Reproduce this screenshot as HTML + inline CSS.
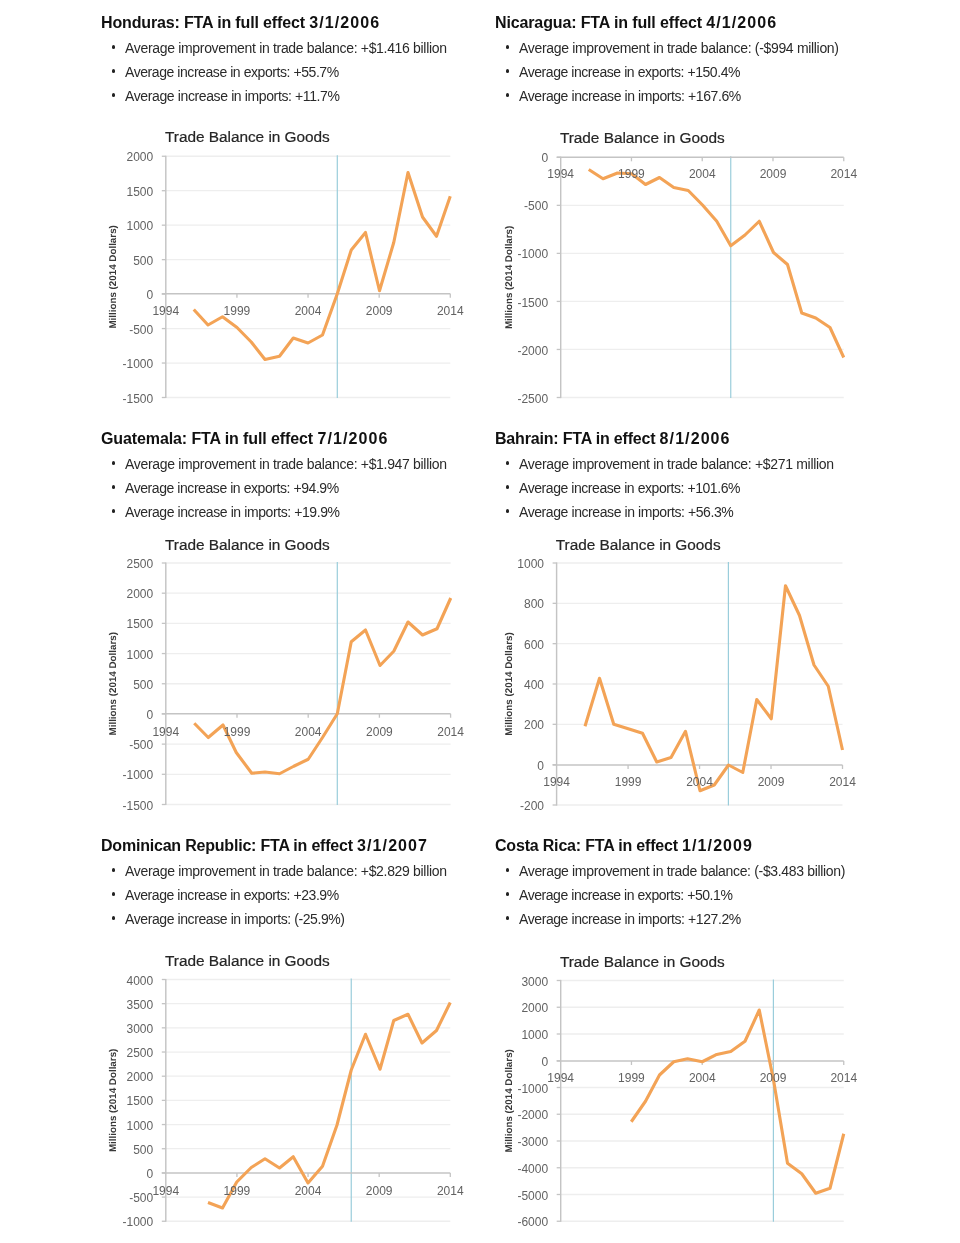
<!DOCTYPE html>
<html lang="en">
<head>
<meta charset="utf-8">
<title>FTA Trade Balance in Goods</title>
<style>
html,body{margin:0;padding:0;background:#fff;}
body{width:960px;height:1243px;position:relative;overflow:hidden;font-family:"Liberation Sans",sans-serif;color:#222;}
.sec{position:absolute;margin:0;}
.sec h3{position:absolute;left:0;top:0;margin:0;font-size:16px;line-height:20px;font-weight:bold;color:#111;white-space:nowrap;letter-spacing:-0.2px;}
.sec ul{position:absolute;left:0;top:0;margin:0;padding:0;list-style:none;}
.sec li{position:absolute;left:24px;margin:0;font-size:14px;line-height:20px;color:#2a2a2a;white-space:nowrap;letter-spacing:-0.2px;}
.sec li::before{content:"";position:absolute;left:-13.5px;top:7.4px;width:3.8px;height:3.8px;border-radius:50%;background:#222;}
svg{position:absolute;left:0;top:0;}
svg text{font-family:"Liberation Sans",sans-serif;}
.ct{font-size:15.4px;fill:#262626;stroke:#262626;stroke-width:0.2px;}
.yl{font-size:12px;fill:#626262;text-anchor:end;}
.xl{font-size:12px;fill:#626262;text-anchor:middle;}
.yt{font-size:9.8px;font-weight:bold;fill:#383838;text-anchor:middle;text-rendering:geometricPrecision;}
</style>
</head>
<body>

<section class="sec" style="left:101px;top:0px">
<h3 style="top:13px;letter-spacing:-0.148px">Honduras: FTA in full effect <span style="letter-spacing:1.088px">3/1/2006</span></h3>
<ul>
<li style="top:38px;letter-spacing:-0.321px">Average improvement in trade balance: +$1.416 billion</li>
<li style="top:62px;letter-spacing:-0.435px">Average increase in exports: +55.7%</li>
<li style="top:86px;letter-spacing:-0.380px">Average increase in imports: +11.7%</li>
</ul></section>
<section class="sec" style="left:495px;top:0px">
<h3 style="top:13px;letter-spacing:-0.131px">Nicaragua: FTA in full effect <span style="letter-spacing:1.088px">4/1/2006</span></h3>
<ul>
<li style="top:38px;letter-spacing:-0.321px">Average improvement in trade balance: (-$994 million)</li>
<li style="top:62px;letter-spacing:-0.437px">Average increase in exports: +150.4%</li>
<li style="top:86px;letter-spacing:-0.414px">Average increase in imports: +167.6%</li>
</ul></section>
<section class="sec" style="left:101px;top:416px">
<h3 style="top:13px;letter-spacing:-0.106px">Guatemala: FTA in full effect <span style="letter-spacing:1.088px">7/1/2006</span></h3>
<ul>
<li style="top:38px;letter-spacing:-0.321px">Average improvement in trade balance: +$1.947 billion</li>
<li style="top:62px;letter-spacing:-0.435px">Average increase in exports: +94.9%</li>
<li style="top:86px;letter-spacing:-0.409px">Average increase in imports: +19.9%</li>
</ul></section>
<section class="sec" style="left:495px;top:416px">
<h3 style="top:13px;letter-spacing:-0.187px">Bahrain: FTA in effect <span style="letter-spacing:1.088px">8/1/2006</span></h3>
<ul>
<li style="top:38px;letter-spacing:-0.317px">Average improvement in trade balance: +$271 million</li>
<li style="top:62px;letter-spacing:-0.437px">Average increase in exports: +101.6%</li>
<li style="top:86px;letter-spacing:-0.418px">Average increase in imports: +56.3%</li>
</ul></section>
<section class="sec" style="left:101px;top:823px">
<h3 style="top:13px;letter-spacing:-0.207px">Dominican Republic: FTA in effect <span style="letter-spacing:1.088px">3/1/2007</span></h3>
<ul>
<li style="top:38px;letter-spacing:-0.321px">Average improvement in trade balance: +$2.829 billion</li>
<li style="top:62px;letter-spacing:-0.435px">Average increase in exports: +23.9%</li>
<li style="top:86px;letter-spacing:-0.409px">Average increase in imports: (-25.9%)</li>
</ul></section>
<section class="sec" style="left:495px;top:823px">
<h3 style="top:13px;letter-spacing:-0.190px">Costa Rica: FTA in effect <span style="letter-spacing:1.088px">1/1/2009</span></h3>
<ul>
<li style="top:38px;letter-spacing:-0.336px">Average improvement in trade balance: (-$3.483 billion)</li>
<li style="top:62px;letter-spacing:-0.444px">Average increase in exports: +50.1%</li>
<li style="top:86px;letter-spacing:-0.414px">Average increase in imports: +127.2%</li>
</ul></section>
<svg width="960" height="1243" viewBox="0 0 960 1243">
<g>
<line x1="165.8" y1="156.25" x2="450.3" y2="156.25" stroke="#eeeeee" stroke-width="1.3"/>
<line x1="165.8" y1="190.71" x2="450.3" y2="190.71" stroke="#eeeeee" stroke-width="1.3"/>
<line x1="165.8" y1="225.18" x2="450.3" y2="225.18" stroke="#eeeeee" stroke-width="1.3"/>
<line x1="165.8" y1="259.64" x2="450.3" y2="259.64" stroke="#eeeeee" stroke-width="1.3"/>
<line x1="165.8" y1="328.57" x2="450.3" y2="328.57" stroke="#eeeeee" stroke-width="1.3"/>
<line x1="165.8" y1="363.04" x2="450.3" y2="363.04" stroke="#eeeeee" stroke-width="1.3"/>
<line x1="165.8" y1="397.5" x2="450.3" y2="397.5" stroke="#eeeeee" stroke-width="1.3"/>
<line x1="337.3" y1="155.25" x2="337.3" y2="398" stroke="#9acddb" stroke-width="1.2"/>
<line x1="165.8" y1="155.65" x2="165.8" y2="398.1" stroke="#c4c4c4" stroke-width="1.45"/>
<line x1="161.8" y1="293.75" x2="450.3" y2="293.75" stroke="#c4c4c4" stroke-width="1.5"/>
<line x1="161.8" y1="156.25" x2="165.8" y2="156.25" stroke="#c4c4c4" stroke-width="1.3"/>
<line x1="161.8" y1="190.71" x2="165.8" y2="190.71" stroke="#c4c4c4" stroke-width="1.3"/>
<line x1="161.8" y1="225.18" x2="165.8" y2="225.18" stroke="#c4c4c4" stroke-width="1.3"/>
<line x1="161.8" y1="259.64" x2="165.8" y2="259.64" stroke="#c4c4c4" stroke-width="1.3"/>
<line x1="161.8" y1="294.11" x2="165.8" y2="294.11" stroke="#c4c4c4" stroke-width="1.3"/>
<line x1="161.8" y1="328.57" x2="165.8" y2="328.57" stroke="#c4c4c4" stroke-width="1.3"/>
<line x1="161.8" y1="363.04" x2="165.8" y2="363.04" stroke="#c4c4c4" stroke-width="1.3"/>
<line x1="161.8" y1="397.5" x2="165.8" y2="397.5" stroke="#c4c4c4" stroke-width="1.3"/>
<line x1="236.93" y1="293.75" x2="236.93" y2="297.75" stroke="#c4c4c4" stroke-width="1.3"/>
<line x1="308.05" y1="293.75" x2="308.05" y2="297.75" stroke="#c4c4c4" stroke-width="1.3"/>
<line x1="379.18" y1="293.75" x2="379.18" y2="297.75" stroke="#c4c4c4" stroke-width="1.3"/>
<line x1="450.3" y1="293.75" x2="450.3" y2="297.75" stroke="#c4c4c4" stroke-width="1.3"/>
<path d="M193.75 309.5 L208 325 L222.5 316.75 L237 327.5 L251.25 342 L265 359.5 L279.5 356.25 L293.25 338 L308 343 L322.5 335 L337.3 293.75 L351.25 250 L365.5 232.5 L379.5 290.75 L393.75 242.5 L408 172.5 L422.5 217 L436.5 236.25 L450.25 196.25" fill="none" stroke="#f3a356" stroke-width="3.1" stroke-linejoin="round" stroke-linecap="butt"/>
<text class="yl" x="153.2" y="161.35">2000</text>
<text class="yl" x="153.2" y="195.81">1500</text>
<text class="yl" x="153.2" y="230.28">1000</text>
<text class="yl" x="153.2" y="264.74">500</text>
<text class="yl" x="153.2" y="299.21">0</text>
<text class="yl" x="153.2" y="333.67">-500</text>
<text class="yl" x="153.2" y="368.14">-1000</text>
<text class="yl" x="153.2" y="402.6">-1500</text>
<text class="xl" x="165.8" y="315.25">1994</text>
<text class="xl" x="236.93" y="315.25">1999</text>
<text class="xl" x="308.05" y="315.25">2004</text>
<text class="xl" x="379.18" y="315.25">2009</text>
<text class="xl" x="450.3" y="315.25">2014</text>
<text class="ct" x="165" y="142.05" textLength="164.8" lengthAdjust="spacing">Trade Balance in Goods</text>
<text class="yt" transform="translate(116.2 276.88) rotate(-90)" x="0" y="0">Millions (2014 Dollars)</text>
</g>
<g>
<line x1="560.7" y1="205.34" x2="843.75" y2="205.34" stroke="#eeeeee" stroke-width="1.3"/>
<line x1="560.7" y1="253.38" x2="843.75" y2="253.38" stroke="#eeeeee" stroke-width="1.3"/>
<line x1="560.7" y1="301.42" x2="843.75" y2="301.42" stroke="#eeeeee" stroke-width="1.3"/>
<line x1="560.7" y1="349.46" x2="843.75" y2="349.46" stroke="#eeeeee" stroke-width="1.3"/>
<line x1="560.7" y1="397.5" x2="843.75" y2="397.5" stroke="#eeeeee" stroke-width="1.3"/>
<line x1="730.75" y1="156.3" x2="730.75" y2="398" stroke="#9acddb" stroke-width="1.2"/>
<line x1="560.7" y1="156.7" x2="560.7" y2="398.1" stroke="#c4c4c4" stroke-width="1.45"/>
<line x1="556.7" y1="157.3" x2="843.75" y2="157.3" stroke="#c4c4c4" stroke-width="1.5"/>
<line x1="556.7" y1="157.3" x2="560.7" y2="157.3" stroke="#c4c4c4" stroke-width="1.3"/>
<line x1="556.7" y1="205.34" x2="560.7" y2="205.34" stroke="#c4c4c4" stroke-width="1.3"/>
<line x1="556.7" y1="253.38" x2="560.7" y2="253.38" stroke="#c4c4c4" stroke-width="1.3"/>
<line x1="556.7" y1="301.42" x2="560.7" y2="301.42" stroke="#c4c4c4" stroke-width="1.3"/>
<line x1="556.7" y1="349.46" x2="560.7" y2="349.46" stroke="#c4c4c4" stroke-width="1.3"/>
<line x1="556.7" y1="397.5" x2="560.7" y2="397.5" stroke="#c4c4c4" stroke-width="1.3"/>
<line x1="631.46" y1="157.3" x2="631.46" y2="161.3" stroke="#c4c4c4" stroke-width="1.3"/>
<line x1="702.23" y1="157.3" x2="702.23" y2="161.3" stroke="#c4c4c4" stroke-width="1.3"/>
<line x1="772.99" y1="157.3" x2="772.99" y2="161.3" stroke="#c4c4c4" stroke-width="1.3"/>
<line x1="843.75" y1="157.3" x2="843.75" y2="161.3" stroke="#c4c4c4" stroke-width="1.3"/>
<path d="M588.75 169.5 L603 178.75 L617.5 173 L631.75 173.75 L645.5 184.5 L659.5 177.5 L673.75 187.5 L688.25 190.5 L702.5 205 L716.75 221.25 L730.75 245.75 L745 235 L759.25 221.25 L773.5 252.5 L787.5 264.5 L801.75 313 L815.75 318 L830 327.5 L843.75 357.5" fill="none" stroke="#f3a356" stroke-width="3.1" stroke-linejoin="round" stroke-linecap="butt"/>
<text class="yl" x="548.1" y="162.4">0</text>
<text class="yl" x="548.1" y="210.44">-500</text>
<text class="yl" x="548.1" y="258.48">-1000</text>
<text class="yl" x="548.1" y="306.52">-1500</text>
<text class="yl" x="548.1" y="354.56">-2000</text>
<text class="yl" x="548.1" y="402.6">-2500</text>
<text class="xl" x="560.7" y="178.3">1994</text>
<text class="xl" x="631.46" y="178.3">1999</text>
<text class="xl" x="702.23" y="178.3">2004</text>
<text class="xl" x="772.99" y="178.3">2009</text>
<text class="xl" x="843.75" y="178.3">2014</text>
<text class="ct" x="559.9" y="143.1" textLength="164.8" lengthAdjust="spacing">Trade Balance in Goods</text>
<text class="yt" transform="translate(511.7 277.4) rotate(-90)" x="0" y="0">Millions (2014 Dollars)</text>
</g>
<g>
<line x1="165.8" y1="563" x2="450.6" y2="563" stroke="#eeeeee" stroke-width="1.3"/>
<line x1="165.8" y1="593.19" x2="450.6" y2="593.19" stroke="#eeeeee" stroke-width="1.3"/>
<line x1="165.8" y1="623.38" x2="450.6" y2="623.38" stroke="#eeeeee" stroke-width="1.3"/>
<line x1="165.8" y1="653.56" x2="450.6" y2="653.56" stroke="#eeeeee" stroke-width="1.3"/>
<line x1="165.8" y1="683.75" x2="450.6" y2="683.75" stroke="#eeeeee" stroke-width="1.3"/>
<line x1="165.8" y1="744.12" x2="450.6" y2="744.12" stroke="#eeeeee" stroke-width="1.3"/>
<line x1="165.8" y1="774.31" x2="450.6" y2="774.31" stroke="#eeeeee" stroke-width="1.3"/>
<line x1="165.8" y1="804.5" x2="450.6" y2="804.5" stroke="#eeeeee" stroke-width="1.3"/>
<line x1="337.3" y1="562" x2="337.3" y2="805" stroke="#9acddb" stroke-width="1.2"/>
<line x1="165.8" y1="562.4" x2="165.8" y2="805.1" stroke="#c4c4c4" stroke-width="1.45"/>
<line x1="161.8" y1="713.75" x2="450.6" y2="713.75" stroke="#c4c4c4" stroke-width="1.5"/>
<line x1="161.8" y1="563" x2="165.8" y2="563" stroke="#c4c4c4" stroke-width="1.3"/>
<line x1="161.8" y1="593.19" x2="165.8" y2="593.19" stroke="#c4c4c4" stroke-width="1.3"/>
<line x1="161.8" y1="623.38" x2="165.8" y2="623.38" stroke="#c4c4c4" stroke-width="1.3"/>
<line x1="161.8" y1="653.56" x2="165.8" y2="653.56" stroke="#c4c4c4" stroke-width="1.3"/>
<line x1="161.8" y1="683.75" x2="165.8" y2="683.75" stroke="#c4c4c4" stroke-width="1.3"/>
<line x1="161.8" y1="713.94" x2="165.8" y2="713.94" stroke="#c4c4c4" stroke-width="1.3"/>
<line x1="161.8" y1="744.12" x2="165.8" y2="744.12" stroke="#c4c4c4" stroke-width="1.3"/>
<line x1="161.8" y1="774.31" x2="165.8" y2="774.31" stroke="#c4c4c4" stroke-width="1.3"/>
<line x1="161.8" y1="804.5" x2="165.8" y2="804.5" stroke="#c4c4c4" stroke-width="1.3"/>
<line x1="237" y1="713.75" x2="237" y2="717.75" stroke="#c4c4c4" stroke-width="1.3"/>
<line x1="308.2" y1="713.75" x2="308.2" y2="717.75" stroke="#c4c4c4" stroke-width="1.3"/>
<line x1="379.4" y1="713.75" x2="379.4" y2="717.75" stroke="#c4c4c4" stroke-width="1.3"/>
<line x1="450.6" y1="713.75" x2="450.6" y2="717.75" stroke="#c4c4c4" stroke-width="1.3"/>
<path d="M194.25 723.25 L208.25 737.5 L223 725 L236.25 752.5 L251.75 773.25 L265 772 L279.5 773.75 L293.75 766.25 L308.25 759.25 L322.5 737.5 L337.3 713.75 L351.25 641.75 L365.5 630 L380 665.5 L393.75 651.25 L408 622 L422.5 635 L437 628.75 L450.75 598" fill="none" stroke="#f3a356" stroke-width="3.1" stroke-linejoin="round" stroke-linecap="butt"/>
<text class="yl" x="153.2" y="568.1">2500</text>
<text class="yl" x="153.2" y="598.29">2000</text>
<text class="yl" x="153.2" y="628.48">1500</text>
<text class="yl" x="153.2" y="658.66">1000</text>
<text class="yl" x="153.2" y="688.85">500</text>
<text class="yl" x="153.2" y="719.04">0</text>
<text class="yl" x="153.2" y="749.23">-500</text>
<text class="yl" x="153.2" y="779.41">-1000</text>
<text class="yl" x="153.2" y="809.6">-1500</text>
<text class="xl" x="165.8" y="735.5">1994</text>
<text class="xl" x="237" y="735.5">1999</text>
<text class="xl" x="308.2" y="735.5">2004</text>
<text class="xl" x="379.4" y="735.5">2009</text>
<text class="xl" x="450.6" y="735.5">2014</text>
<text class="ct" x="165" y="549.5" textLength="164.8" lengthAdjust="spacing">Trade Balance in Goods</text>
<text class="yt" transform="translate(116.2 683.75) rotate(-90)" x="0" y="0">Millions (2014 Dollars)</text>
</g>
<g>
<line x1="556.6" y1="563" x2="842.5" y2="563" stroke="#eeeeee" stroke-width="1.3"/>
<line x1="556.6" y1="603.33" x2="842.5" y2="603.33" stroke="#eeeeee" stroke-width="1.3"/>
<line x1="556.6" y1="643.67" x2="842.5" y2="643.67" stroke="#eeeeee" stroke-width="1.3"/>
<line x1="556.6" y1="684" x2="842.5" y2="684" stroke="#eeeeee" stroke-width="1.3"/>
<line x1="556.6" y1="724.33" x2="842.5" y2="724.33" stroke="#eeeeee" stroke-width="1.3"/>
<line x1="556.6" y1="805" x2="842.5" y2="805" stroke="#eeeeee" stroke-width="1.3"/>
<line x1="728.4" y1="562" x2="728.4" y2="805.5" stroke="#9acddb" stroke-width="1.2"/>
<line x1="556.6" y1="562.4" x2="556.6" y2="805.6" stroke="#c4c4c4" stroke-width="1.45"/>
<line x1="552.6" y1="765" x2="842.5" y2="765" stroke="#c4c4c4" stroke-width="1.5"/>
<line x1="552.6" y1="563" x2="556.6" y2="563" stroke="#c4c4c4" stroke-width="1.3"/>
<line x1="552.6" y1="603.33" x2="556.6" y2="603.33" stroke="#c4c4c4" stroke-width="1.3"/>
<line x1="552.6" y1="643.67" x2="556.6" y2="643.67" stroke="#c4c4c4" stroke-width="1.3"/>
<line x1="552.6" y1="684" x2="556.6" y2="684" stroke="#c4c4c4" stroke-width="1.3"/>
<line x1="552.6" y1="724.33" x2="556.6" y2="724.33" stroke="#c4c4c4" stroke-width="1.3"/>
<line x1="552.6" y1="764.67" x2="556.6" y2="764.67" stroke="#c4c4c4" stroke-width="1.3"/>
<line x1="552.6" y1="805" x2="556.6" y2="805" stroke="#c4c4c4" stroke-width="1.3"/>
<line x1="628.08" y1="765" x2="628.08" y2="769" stroke="#c4c4c4" stroke-width="1.3"/>
<line x1="699.55" y1="765" x2="699.55" y2="769" stroke="#c4c4c4" stroke-width="1.3"/>
<line x1="771.02" y1="765" x2="771.02" y2="769" stroke="#c4c4c4" stroke-width="1.3"/>
<line x1="842.5" y1="765" x2="842.5" y2="769" stroke="#c4c4c4" stroke-width="1.3"/>
<path d="M585 726.25 L599.5 678.25 L613.75 724.25 L628.25 728.75 L642.5 733.25 L656.75 762 L671 757.5 L685.5 731.25 L700 790.75 L714.25 785 L728.5 765 L742.75 772.5 L756.75 699.5 L771.25 718.75 L785.5 585.75 L799.5 615.5 L814 665 L828.25 686.25 L842.5 750" fill="none" stroke="#f3a356" stroke-width="3.1" stroke-linejoin="round" stroke-linecap="butt"/>
<text class="yl" x="544" y="568.1">1000</text>
<text class="yl" x="544" y="608.43">800</text>
<text class="yl" x="544" y="648.77">600</text>
<text class="yl" x="544" y="689.1">400</text>
<text class="yl" x="544" y="729.43">200</text>
<text class="yl" x="544" y="769.77">0</text>
<text class="yl" x="544" y="810.1">-200</text>
<text class="xl" x="556.6" y="786">1994</text>
<text class="xl" x="628.08" y="786">1999</text>
<text class="xl" x="699.55" y="786">2004</text>
<text class="xl" x="771.02" y="786">2009</text>
<text class="xl" x="842.5" y="786">2014</text>
<text class="ct" x="555.8" y="549.5" textLength="164.8" lengthAdjust="spacing">Trade Balance in Goods</text>
<text class="yt" transform="translate(511.7 684) rotate(-90)" x="0" y="0">Millions (2014 Dollars)</text>
</g>
<g>
<line x1="165.8" y1="979.5" x2="450.3" y2="979.5" stroke="#eeeeee" stroke-width="1.3"/>
<line x1="165.8" y1="1003.67" x2="450.3" y2="1003.67" stroke="#eeeeee" stroke-width="1.3"/>
<line x1="165.8" y1="1027.85" x2="450.3" y2="1027.85" stroke="#eeeeee" stroke-width="1.3"/>
<line x1="165.8" y1="1052.03" x2="450.3" y2="1052.03" stroke="#eeeeee" stroke-width="1.3"/>
<line x1="165.8" y1="1076.2" x2="450.3" y2="1076.2" stroke="#eeeeee" stroke-width="1.3"/>
<line x1="165.8" y1="1100.38" x2="450.3" y2="1100.38" stroke="#eeeeee" stroke-width="1.3"/>
<line x1="165.8" y1="1124.55" x2="450.3" y2="1124.55" stroke="#eeeeee" stroke-width="1.3"/>
<line x1="165.8" y1="1148.72" x2="450.3" y2="1148.72" stroke="#eeeeee" stroke-width="1.3"/>
<line x1="165.8" y1="1197.08" x2="450.3" y2="1197.08" stroke="#eeeeee" stroke-width="1.3"/>
<line x1="165.8" y1="1221.25" x2="450.3" y2="1221.25" stroke="#eeeeee" stroke-width="1.3"/>
<line x1="351.25" y1="978.5" x2="351.25" y2="1221.75" stroke="#9acddb" stroke-width="1.2"/>
<line x1="165.8" y1="978.9" x2="165.8" y2="1221.85" stroke="#c4c4c4" stroke-width="1.45"/>
<line x1="161.8" y1="1173" x2="450.3" y2="1173" stroke="#c4c4c4" stroke-width="1.5"/>
<line x1="161.8" y1="979.5" x2="165.8" y2="979.5" stroke="#c4c4c4" stroke-width="1.3"/>
<line x1="161.8" y1="1003.67" x2="165.8" y2="1003.67" stroke="#c4c4c4" stroke-width="1.3"/>
<line x1="161.8" y1="1027.85" x2="165.8" y2="1027.85" stroke="#c4c4c4" stroke-width="1.3"/>
<line x1="161.8" y1="1052.03" x2="165.8" y2="1052.03" stroke="#c4c4c4" stroke-width="1.3"/>
<line x1="161.8" y1="1076.2" x2="165.8" y2="1076.2" stroke="#c4c4c4" stroke-width="1.3"/>
<line x1="161.8" y1="1100.38" x2="165.8" y2="1100.38" stroke="#c4c4c4" stroke-width="1.3"/>
<line x1="161.8" y1="1124.55" x2="165.8" y2="1124.55" stroke="#c4c4c4" stroke-width="1.3"/>
<line x1="161.8" y1="1148.72" x2="165.8" y2="1148.72" stroke="#c4c4c4" stroke-width="1.3"/>
<line x1="161.8" y1="1172.9" x2="165.8" y2="1172.9" stroke="#c4c4c4" stroke-width="1.3"/>
<line x1="161.8" y1="1197.08" x2="165.8" y2="1197.08" stroke="#c4c4c4" stroke-width="1.3"/>
<line x1="161.8" y1="1221.25" x2="165.8" y2="1221.25" stroke="#c4c4c4" stroke-width="1.3"/>
<line x1="236.93" y1="1173" x2="236.93" y2="1177" stroke="#c4c4c4" stroke-width="1.3"/>
<line x1="308.05" y1="1173" x2="308.05" y2="1177" stroke="#c4c4c4" stroke-width="1.3"/>
<line x1="379.18" y1="1173" x2="379.18" y2="1177" stroke="#c4c4c4" stroke-width="1.3"/>
<line x1="450.3" y1="1173" x2="450.3" y2="1177" stroke="#c4c4c4" stroke-width="1.3"/>
<path d="M208 1202.5 L222.5 1208 L236.75 1182 L251.25 1167.5 L265 1158.75 L279.5 1168 L293.25 1156.75 L308 1183 L322.5 1166.25 L337 1125 L351.25 1070 L365.5 1034.25 L380 1069.25 L393.75 1020.5 L408 1014.25 L422 1043 L436.5 1030.5 L450.25 1002.5" fill="none" stroke="#f3a356" stroke-width="3.1" stroke-linejoin="round" stroke-linecap="butt"/>
<text class="yl" x="153.2" y="984.6">4000</text>
<text class="yl" x="153.2" y="1008.77">3500</text>
<text class="yl" x="153.2" y="1032.95">3000</text>
<text class="yl" x="153.2" y="1057.12">2500</text>
<text class="yl" x="153.2" y="1081.3">2000</text>
<text class="yl" x="153.2" y="1105.47">1500</text>
<text class="yl" x="153.2" y="1129.65">1000</text>
<text class="yl" x="153.2" y="1153.82">500</text>
<text class="yl" x="153.2" y="1178">0</text>
<text class="yl" x="153.2" y="1202.17">-500</text>
<text class="yl" x="153.2" y="1226.35">-1000</text>
<text class="xl" x="165.8" y="1194.7">1994</text>
<text class="xl" x="236.93" y="1194.7">1999</text>
<text class="xl" x="308.05" y="1194.7">2004</text>
<text class="xl" x="379.18" y="1194.7">2009</text>
<text class="xl" x="450.3" y="1194.7">2014</text>
<text class="ct" x="165" y="966" textLength="164.8" lengthAdjust="spacing">Trade Balance in Goods</text>
<text class="yt" transform="translate(116.2 1100.38) rotate(-90)" x="0" y="0">Millions (2014 Dollars)</text>
</g>
<g>
<line x1="560.7" y1="980.5" x2="843.75" y2="980.5" stroke="#eeeeee" stroke-width="1.3"/>
<line x1="560.7" y1="1007.25" x2="843.75" y2="1007.25" stroke="#eeeeee" stroke-width="1.3"/>
<line x1="560.7" y1="1034" x2="843.75" y2="1034" stroke="#eeeeee" stroke-width="1.3"/>
<line x1="560.7" y1="1087.5" x2="843.75" y2="1087.5" stroke="#eeeeee" stroke-width="1.3"/>
<line x1="560.7" y1="1114.25" x2="843.75" y2="1114.25" stroke="#eeeeee" stroke-width="1.3"/>
<line x1="560.7" y1="1141" x2="843.75" y2="1141" stroke="#eeeeee" stroke-width="1.3"/>
<line x1="560.7" y1="1167.75" x2="843.75" y2="1167.75" stroke="#eeeeee" stroke-width="1.3"/>
<line x1="560.7" y1="1194.5" x2="843.75" y2="1194.5" stroke="#eeeeee" stroke-width="1.3"/>
<line x1="560.7" y1="1221.25" x2="843.75" y2="1221.25" stroke="#eeeeee" stroke-width="1.3"/>
<line x1="773.4" y1="979.5" x2="773.4" y2="1221.75" stroke="#9acddb" stroke-width="1.2"/>
<line x1="560.7" y1="979.9" x2="560.7" y2="1221.85" stroke="#c4c4c4" stroke-width="1.45"/>
<line x1="556.7" y1="1061" x2="843.75" y2="1061" stroke="#c4c4c4" stroke-width="1.5"/>
<line x1="556.7" y1="980.5" x2="560.7" y2="980.5" stroke="#c4c4c4" stroke-width="1.3"/>
<line x1="556.7" y1="1007.25" x2="560.7" y2="1007.25" stroke="#c4c4c4" stroke-width="1.3"/>
<line x1="556.7" y1="1034" x2="560.7" y2="1034" stroke="#c4c4c4" stroke-width="1.3"/>
<line x1="556.7" y1="1060.75" x2="560.7" y2="1060.75" stroke="#c4c4c4" stroke-width="1.3"/>
<line x1="556.7" y1="1087.5" x2="560.7" y2="1087.5" stroke="#c4c4c4" stroke-width="1.3"/>
<line x1="556.7" y1="1114.25" x2="560.7" y2="1114.25" stroke="#c4c4c4" stroke-width="1.3"/>
<line x1="556.7" y1="1141" x2="560.7" y2="1141" stroke="#c4c4c4" stroke-width="1.3"/>
<line x1="556.7" y1="1167.75" x2="560.7" y2="1167.75" stroke="#c4c4c4" stroke-width="1.3"/>
<line x1="556.7" y1="1194.5" x2="560.7" y2="1194.5" stroke="#c4c4c4" stroke-width="1.3"/>
<line x1="556.7" y1="1221.25" x2="560.7" y2="1221.25" stroke="#c4c4c4" stroke-width="1.3"/>
<line x1="631.46" y1="1061" x2="631.46" y2="1065" stroke="#c4c4c4" stroke-width="1.3"/>
<line x1="702.23" y1="1061" x2="702.23" y2="1065" stroke="#c4c4c4" stroke-width="1.3"/>
<line x1="772.99" y1="1061" x2="772.99" y2="1065" stroke="#c4c4c4" stroke-width="1.3"/>
<line x1="843.75" y1="1061" x2="843.75" y2="1065" stroke="#c4c4c4" stroke-width="1.3"/>
<path d="M631.25 1121.75 L645.5 1101.25 L659.5 1075 L673.75 1061.75 L687.5 1058.75 L702.25 1061.75 L716.75 1054.4 L730.75 1051.5 L745 1041.25 L759.25 1010 L773.5 1080 L787.5 1163.25 L801.75 1173.75 L815.75 1193.25 L830 1188.25 L843.75 1133.75" fill="none" stroke="#f3a356" stroke-width="3.1" stroke-linejoin="round" stroke-linecap="butt"/>
<text class="yl" x="548.1" y="985.6">3000</text>
<text class="yl" x="548.1" y="1012.35">2000</text>
<text class="yl" x="548.1" y="1039.1">1000</text>
<text class="yl" x="548.1" y="1065.85">0</text>
<text class="yl" x="548.1" y="1092.6">-1000</text>
<text class="yl" x="548.1" y="1119.35">-2000</text>
<text class="yl" x="548.1" y="1146.1">-3000</text>
<text class="yl" x="548.1" y="1172.85">-4000</text>
<text class="yl" x="548.1" y="1199.6">-5000</text>
<text class="yl" x="548.1" y="1226.35">-6000</text>
<text class="xl" x="560.7" y="1082.2">1994</text>
<text class="xl" x="631.46" y="1082.2">1999</text>
<text class="xl" x="702.23" y="1082.2">2004</text>
<text class="xl" x="772.99" y="1082.2">2009</text>
<text class="xl" x="843.75" y="1082.2">2014</text>
<text class="ct" x="559.9" y="967.2" textLength="164.8" lengthAdjust="spacing">Trade Balance in Goods</text>
<text class="yt" transform="translate(511.7 1100.88) rotate(-90)" x="0" y="0">Millions (2014 Dollars)</text>
</g>
</svg>
</body>
</html>
